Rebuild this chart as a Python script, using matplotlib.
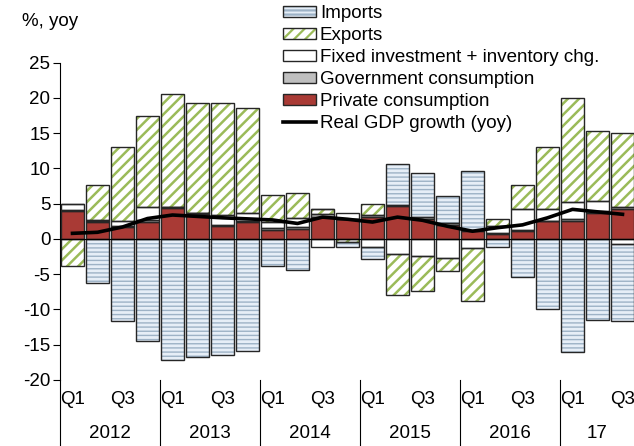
import matplotlib
matplotlib.use('Agg')
import matplotlib.pyplot as plt
import matplotlib.transforms as mtransforms
import numpy as np
from matplotlib.patches import Patch
from matplotlib.lines import Line2D
from matplotlib.legend_handler import HandlerTuple

plt.rcParams['font.family'] = ['Liberation Sans', 'DejaVu Sans']
plt.rcParams['font.size'] = 13.5
plt.rcParams['axes.unicode_minus'] = False
plt.rcParams['hatch.linewidth'] = 1.6

# 2012Q1 .. 2017Q3, contributions to yoy growth (pp)
years = ['2012', '2013', '2014', '2015', '2016', '17']
quarter_labels = (['Q1', '', 'Q3', ''] * 6)[:23]

private = [3.9, 2.4, 1.7, 2.4, 4.4, 3.55, 1.8, 2.4, 1.3, 1.4, 3.1, 2.8,
           3.1, 4.7, 2.9, 2.0, 1.2, 0.7, 1.1, 2.5, 2.6, 3.7, 4.3]
government = [0.2, 0.2, 0.2, 0.3, 0.1, 0.15, 0.2, 0.2, 0.3, 0.25, 0.4, 0.1,
              0.3, 0.1, 0.2, 0.2, 0.1, 0.2, 0.2, 0.1, 0.2, 0.2, 0.2]
investment = [0.8, 0.1, 0.7, 1.9, 0.0, 0.0, 1.4, 1.05, 0.8, 1.35, -1.2, 0.8,
              -1.1, -2.1, -2.4, -2.7, -1.3, 0.9, 3.0, 1.7, 2.4, 1.5, -0.7]
exports = [-3.9, 4.9, 10.5, 12.9, 16.0, 15.6, 15.9, 14.95, 3.8, 3.5, 0.8, -0.4,
           1.6, -5.8, -5.0, -1.8, -7.5, 1.1, 3.4, 8.7, 14.8, 9.9, 10.5]
imports = [0.0, -6.3, -11.6, -14.5, -17.1, -16.7, -16.4, -15.9, -3.8, -4.4, 0.0, -0.7,
           -1.8, 5.9, 6.3, 3.9, 8.4, -1.2, -5.4, -10.0, -16.0, -11.5, -10.9]
gdp = [0.8, 0.95, 1.7, 2.9, 3.4, 3.2, 3.0, 2.85, 2.7, 2.2, 3.1, 2.8,
       2.4, 3.1, 2.65, 1.8, 1.1, 1.6, 2.0, 3.0, 4.2, 3.85, 3.5]

outline = '#262626'
# name, values, face colour, hatch, hatch colour, hatch width
components = [
    ('Private consumption', private, '#a93a35', None, '#a93a35', 1.0),
    ('Government consumption', government, '#bfbfbf', None, '#bfbfbf', 1.0),
    ('Fixed investment + inventory chg.', investment, 'white', None, 'white', 1.0),
    ('Exports', exports, 'white', '///', '#9bbb59', 1.8),
    ('Imports', imports, '#e6eef7', '----', '#9db2c6', 1.0),
]


def set_hw(p, hw):
    if hasattr(p, 'set_hatch_linewidth'):
        p.set_hatch_linewidth(hw)
    return p


fig = plt.figure(figsize=(6.34, 4.46), dpi=100)
ax = fig.add_axes([60 / 634, 66 / 446, 575 / 634, 317.3 / 446])

x = np.arange(len(gdp))
pos_base = np.zeros(len(x))
neg_base = np.zeros(len(x))
handles = {}
for name, vals, face, hatch, hcol, hw in components:
    vals = np.array(vals, dtype=float)
    bottom = np.where(vals >= 0, pos_base, neg_base)
    bars = ax.bar(x, vals, 0.9, bottom=bottom, color=face, hatch=hatch,
                  edgecolor=hcol, linewidth=0, zorder=2)
    for p in bars:
        set_hw(p, hw)
    ax.bar(x, vals, 0.9, bottom=bottom, fill=False, edgecolor=outline,
           linewidth=1, zorder=3)
    pos_base += np.clip(vals, 0, None)
    neg_base += np.clip(vals, None, 0)
    handles[name] = (set_hw(Patch(facecolor=face, hatch=hatch, edgecolor=hcol, linewidth=0), hw),
                     Patch(fill=False, edgecolor=outline, linewidth=1))

ax.axhline(0, color='black', linewidth=0.8, zorder=4)
ax.plot(x, gdp, color='black', linewidth=2.6, zorder=5)

ax.set_xlim(-0.5, 22.5)
ax.set_ylim(-20, 25)
ax.set_yticks(range(-20, 30, 5))
ax.tick_params(axis='y', length=5, width=0.8, pad=2, color='black')
ax.set_xticks([])
for s in ['top', 'right', 'bottom']:
    ax.spines[s].set_visible(False)
ax.spines['left'].set_linewidth(0.8)

trans = mtransforms.blended_transform_factory(ax.transData, ax.transAxes)
below = -66 / 317.3
for sep in [-0.5, 3.5, 7.5, 11.5, 15.5, 19.5]:
    ax.plot([sep, sep], [0, below], color='black', linewidth=0.8,
            transform=trans, clip_on=False)
for i, lab in enumerate(quarter_labels):
    if lab:
        ax.text(i, -19 / 317.3, lab, transform=trans, ha='center', va='center')
year_centres = [1.5, 5.5, 9.5, 13.5, 17.5, 21]
for xc, yr in zip(year_centres, years):
    ax.text(xc, -53 / 317.3, yr, transform=trans, ha='center', va='center')

fig.text(22 / 634, 1 - 22 / 446, '%, yoy', ha='left', va='center')

order = ['Imports', 'Exports', 'Fixed investment + inventory chg.',
         'Government consumption', 'Private consumption']
leg_handles = [handles[n] for n in order] + [Line2D([], [], color='black', linewidth=2.6)]
leg_labels = order + ['Real GDP growth (yoy)']
fig.legend(leg_handles, leg_labels, loc='upper left',
           bbox_to_anchor=(283 / 634, 1 - 5 / 446), frameon=False,
           borderpad=0, borderaxespad=0, handlelength=1.76, handleheight=0.57,
           handletextpad=0.2, labelspacing=0.27,
           handler_map={tuple: HandlerTuple(ndivide=1, pad=0)})

fig.savefig('out.png', dpi=100)
